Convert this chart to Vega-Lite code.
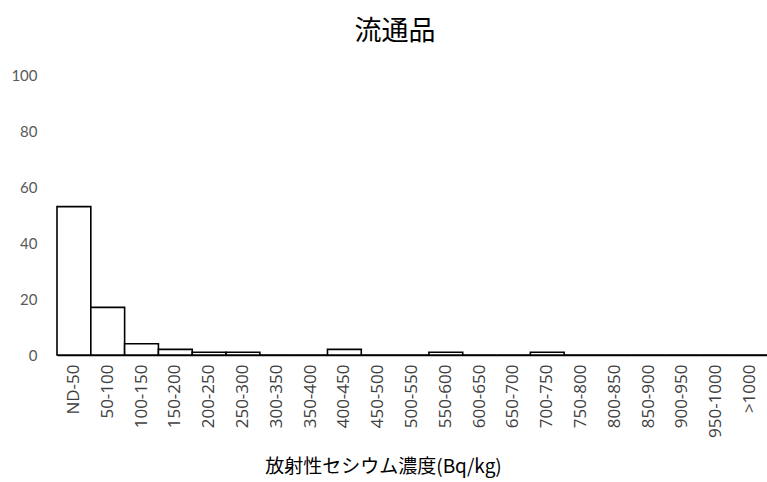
{
  "$schema": "https://vega.github.io/schema/vega-lite/v6.json",
  "width": 710,
  "height": 280,
  "autosize": {"type": "none"},
  "padding": {"left": 57, "top": 75, "right": 0, "bottom": 127},
  "background": "white",
  "title": {
    "text": "流通品",
    "font": "Noto Sans CJK JP",
    "fontSize": 27,
    "fontWeight": "normal",
    "color": "#000000",
    "anchor": "middle",
    "dx": -17,
    "offset": 22
  },
  "config": {"view": {"stroke": null}},
  "data": {
    "values": [
      {"range": "ND-50", "count": 53},
      {"range": "50-100", "count": 17},
      {"range": "100-150", "count": 4},
      {"range": "150-200", "count": 2},
      {"range": "200-250", "count": 1},
      {"range": "250-300", "count": 1},
      {"range": "300-350", "count": 0},
      {"range": "350-400", "count": 0},
      {"range": "400-450", "count": 2},
      {"range": "450-500", "count": 0},
      {"range": "500-550", "count": 0},
      {"range": "550-600", "count": 1},
      {"range": "600-650", "count": 0},
      {"range": "650-700", "count": 0},
      {"range": "700-750", "count": 1},
      {"range": "750-800", "count": 0},
      {"range": "800-850", "count": 0},
      {"range": "850-900", "count": 0},
      {"range": "900-950", "count": 0},
      {"range": "950-1000", "count": 0},
      {"range": ">1000", "count": 0}
    ]
  },
  "mark": {"type": "bar", "fill": "white", "stroke": "black", "strokeWidth": 1.6},
  "encoding": {
    "x": {
      "field": "range",
      "type": "nominal",
      "sort": null,
      "scale": {"paddingInner": 0, "paddingOuter": 0},
      "axis": {
        "title": "放射性セシウム濃度(Bq/kg)",
        "titleFont": "Noto Sans CJK JP",
        "titleFontSize": 19,
        "titleFontWeight": "normal",
        "titleColor": "#000000",
        "titleX": 326,
        "titlePadding": 20,
        "labelAngle": -90,
        "labelFont": "Open Sans",
        "labelFontSize": 17,
        "labelColor": "#404040",
        "labelPadding": 9,
        "ticks": false,
        "domain": true,
        "domainColor": "#000000",
        "domainWidth": 1.6
      }
    },
    "y": {
      "field": "count",
      "type": "quantitative",
      "scale": {"domain": [0, 100]},
      "axis": {
        "title": null,
        "values": [0, 20, 40, 60, 80, 100],
        "grid": false,
        "domain": false,
        "ticks": false,
        "labelFont": "Lato",
        "labelFontSize": 15,
        "labelColor": "#595959",
        "labelPadding": 20
      }
    }
  }
}
